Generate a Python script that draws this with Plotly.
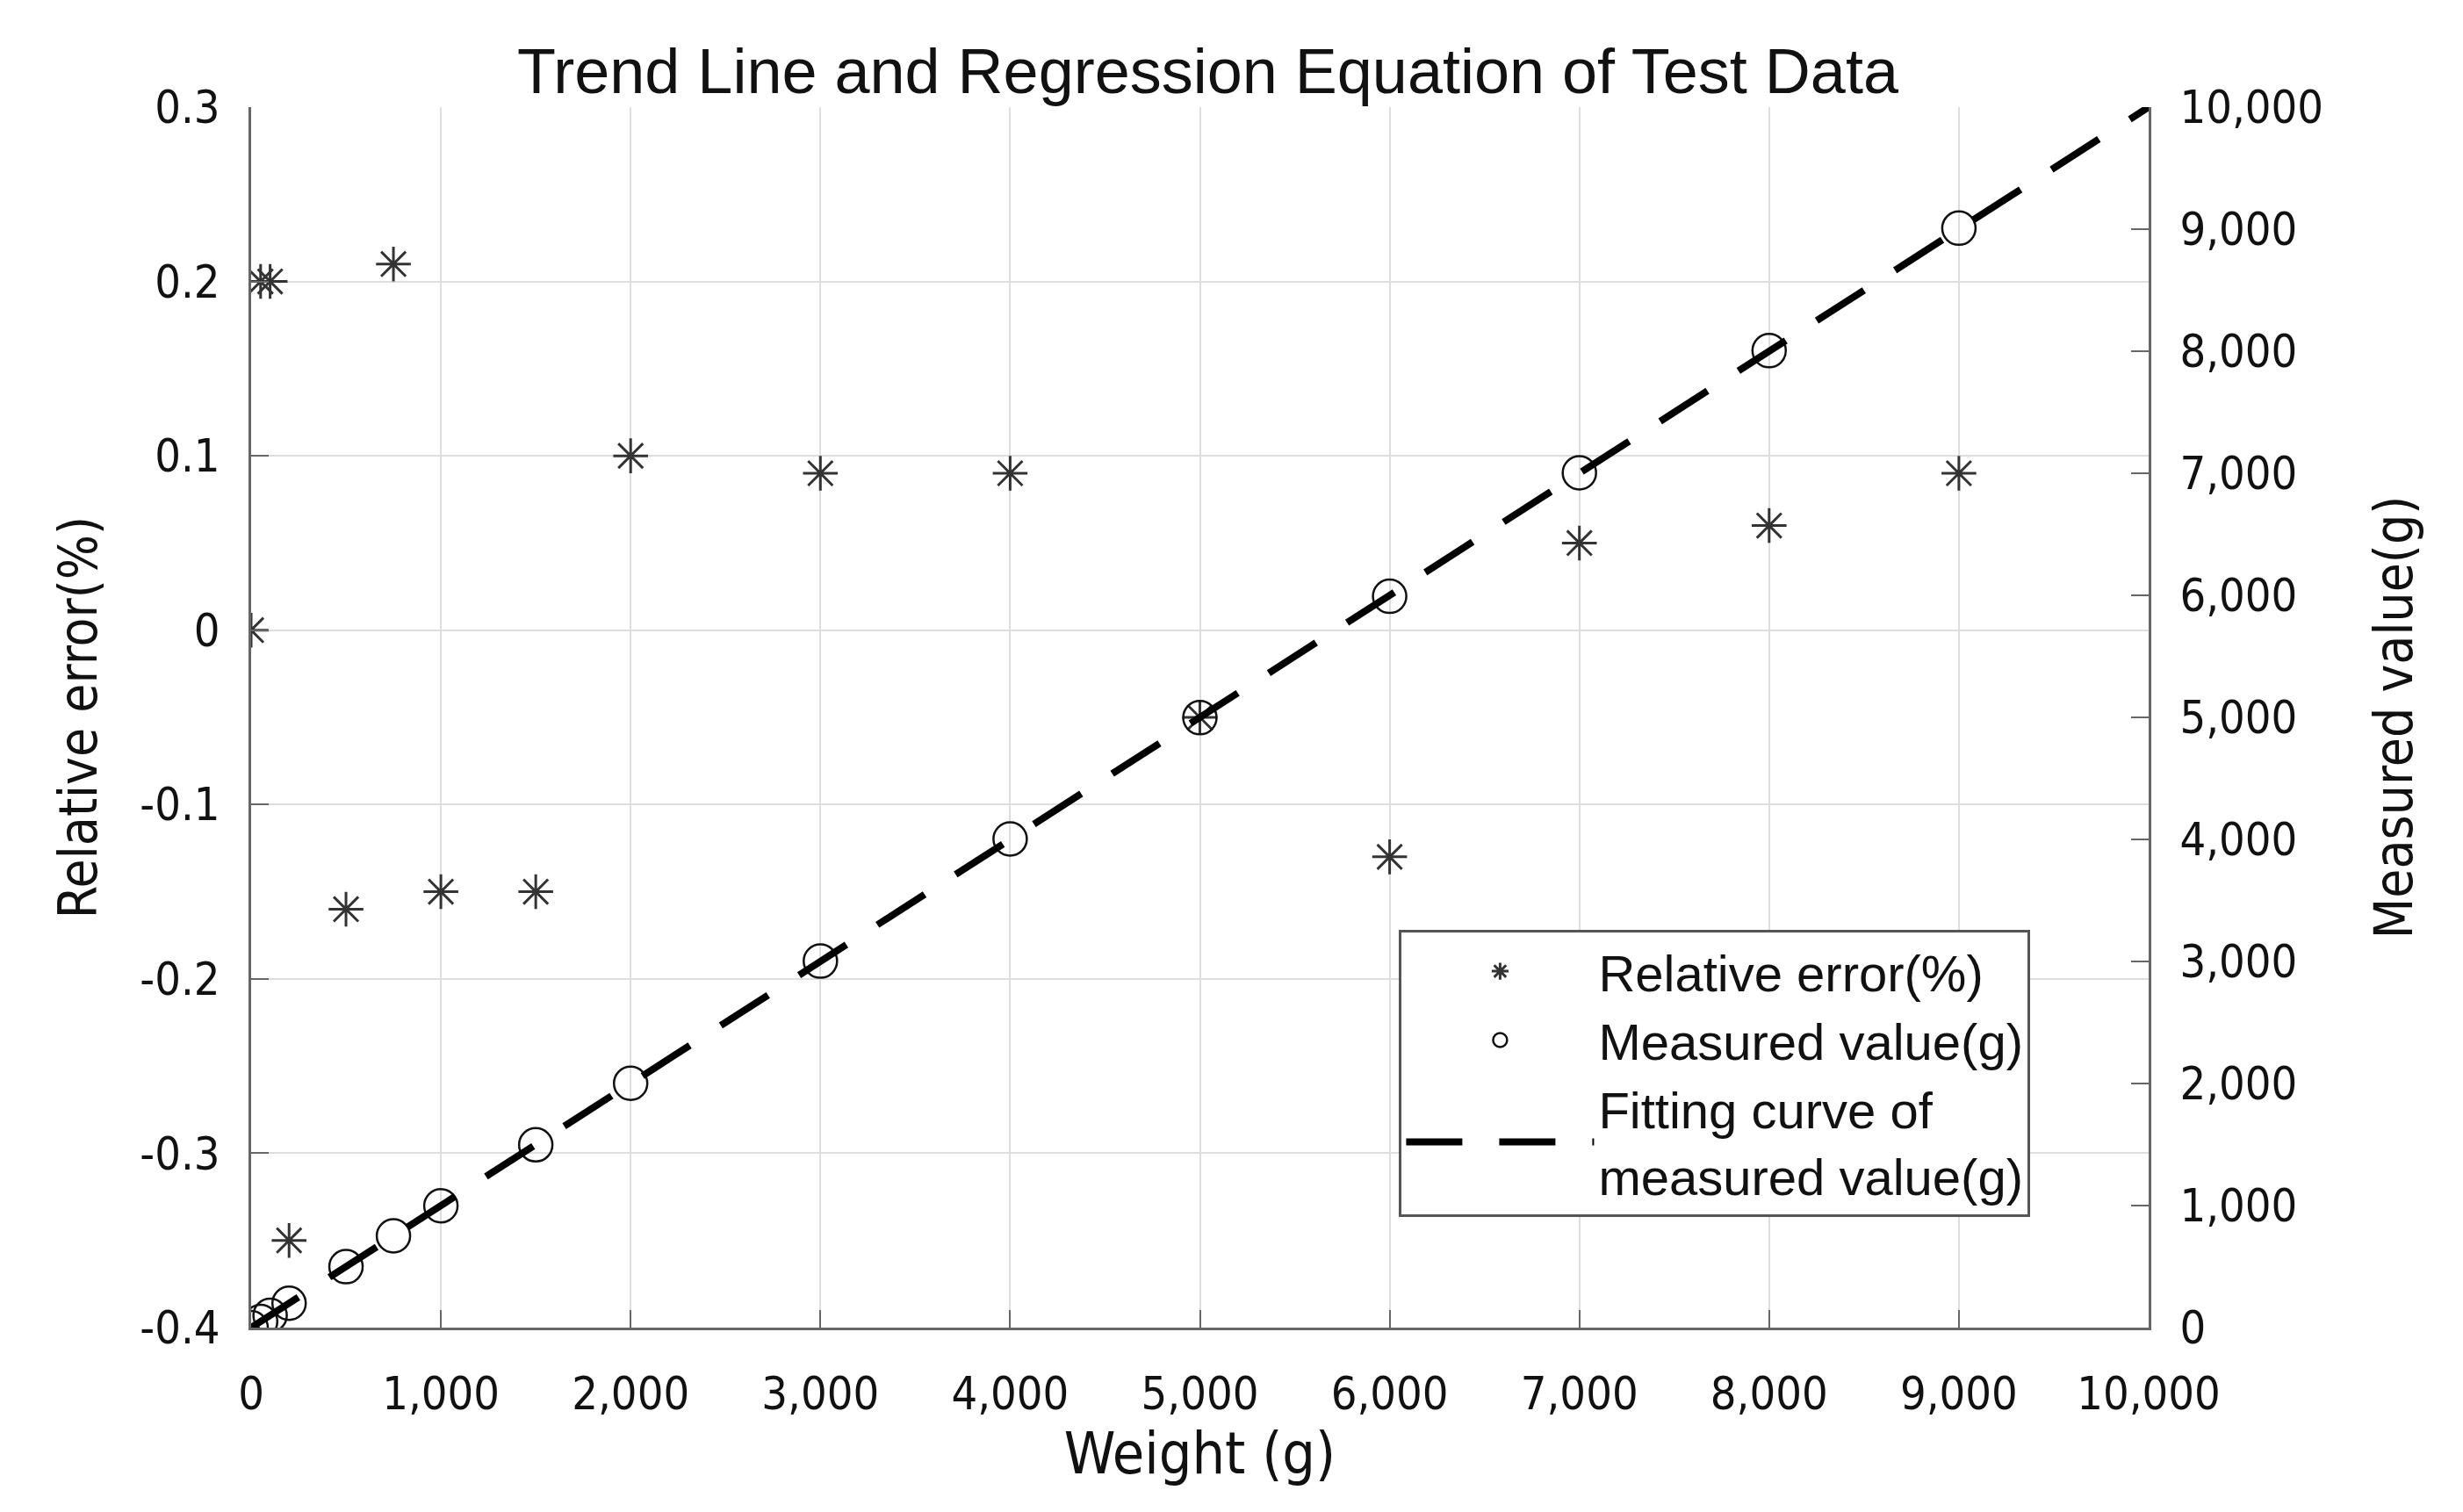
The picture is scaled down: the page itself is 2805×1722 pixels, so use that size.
import plotly.graph_objects as go

# ---- data ----
weights = [0, 50, 100, 200, 500, 750, 1000, 1500, 2000, 3000, 4000, 5000, 6000, 7000, 8000, 9000]
relative_error = [0, 0.20, 0.20, -0.35, -0.16, 0.21, -0.15, -0.15, 0.10, 0.09, 0.09, -0.05, -0.13, 0.05, 0.06, 0.09]
measured_value = [0, 50.1, 100.2, 199.3, 499.2, 751.6, 998.5, 1497.8, 2002.0, 3002.7, 4003.6,
                  4997.5, 5992.2, 7003.5, 8004.8, 9008.1]
fit_x = [0, 10000]
fit_y = [0, 10000]

x_ticks = [0, 1000, 2000, 3000, 4000, 5000, 6000, 7000, 8000, 9000, 10000]
y1_ticks = [-0.4, -0.3, -0.2, -0.1, 0, 0.1, 0.2, 0.3]
y1_labels = ["-0.4", "-0.3", "-0.2", "-0.1", "0", "0.1", "0.2", "0.3"]
y2_ticks = [0, 1000, 2000, 3000, 4000, 5000, 6000, 7000, 8000, 9000, 10000]

title_text = "Trend Line and Regression Equation of Test Data"
names = ["Relative error(%)", "Measured value(g)", "Fitting curve of<br>measured value(g)"]

FAMILY = "Tahoma, 'DejaVu Sans Condensed', 'DejaVu Sans', sans-serif"
TICK_FONT = dict(family=FAMILY, size=52, color="#111")
AX_TITLE_FONT = dict(family=FAMILY, size=60, color="#111")
X_TITLE_FONT = dict(family=FAMILY, size=66, color="#111")

fig = go.Figure()

fig.add_trace(go.Scatter(
    x=weights, y=relative_error, mode="markers", name=names[0], yaxis="y",
    marker=dict(symbol="asterisk-open", size=33, color="#333", line=dict(width=3, color="#333")),
))
fig.add_trace(go.Scatter(
    x=weights, y=measured_value, mode="markers", name=names[1], yaxis="y2",
    marker=dict(symbol="circle-open", size=38, color="#111", line=dict(width=2.5, color="#111")),
))
fig.add_trace(go.Scatter(
    x=fit_x, y=fit_y, mode="lines", name=names[2], yaxis="y2",
    line=dict(color="black", width=8, dash="64px,42px"),
))

axis_common = dict(
    ticks="inside", ticklen=20, tickwidth=2, tickcolor="#666",
    showline=True, linecolor="#666", linewidth=3,
    zeroline=False, tickfont=TICK_FONT,
)

fig.update_layout(
    width=2805, height=1722,
    paper_bgcolor="white", plot_bgcolor="white",
    margin=dict(l=278, r=366, t=114, b=218),
    title=dict(text=title_text, x=0.4875, xanchor="center", y=0.958, yanchor="middle",
               font=dict(family="'Liberation Sans', Arial, sans-serif", size=72, color="#111")),
    xaxis=dict(
        range=[0, 10000], tickvals=x_ticks, tickformat=",d",
        showgrid=True, gridcolor="#dedede", gridwidth=2,
        title=dict(text="Weight (g)", font=X_TITLE_FONT, standoff=14),
        ticklabelstandoff=28,
        **axis_common,
    ),
    yaxis=dict(
        range=[-0.4, 0.3], tickvals=y1_ticks, ticktext=y1_labels,
        showgrid=True, gridcolor="#dedede", gridwidth=2,
        title=dict(text="Relative error(%)", font=AX_TITLE_FONT, standoff=30),
        ticklabelstandoff=22,
        **axis_common,
    ),
    yaxis2=dict(
        range=[0, 10000], tickvals=y2_ticks, tickformat=",d",
        overlaying="y", side="right", showgrid=False,
        title=dict(text="Measured value(g)", font=AX_TITLE_FONT, standoff=60),
        ticklabelstandoff=22,
        **axis_common,
    ),
    legend=dict(
        x=0.605, y=0.326, xanchor="left", yanchor="top",
        bgcolor="white", bordercolor="#555", borderwidth=3,
        font=dict(family="'Liberation Sans', Arial, sans-serif", size=58, color="#111"),
        itemwidth=214, traceorder="normal", tracegroupgap=0,
    ),
    showlegend=True,
)

fig.write_html("out.html")
